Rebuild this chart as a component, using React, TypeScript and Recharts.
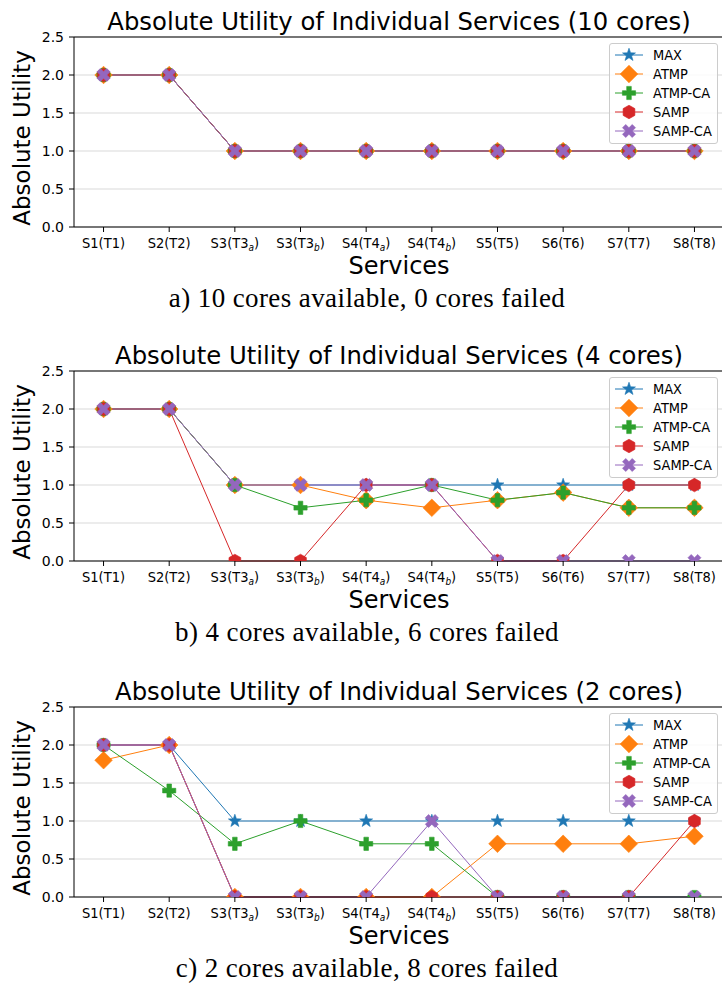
import React from 'react';
import { LineChart, Line, XAxis, YAxis, CartesianGrid, ReferenceLine, Legend } from 'recharts';

// ---------- data ----------
const serviceLabels = ['S1(T1)', 'S2(T2)', 'S3(T3_a)', 'S3(T3_b)', 'S4(T4_a)', 'S4(T4_b)', 'S5(T5)', 'S6(T6)', 'S7(T7)', 'S8(T8)'];
const yTicks = [0, 0.5, 1.0, 1.5, 2.0, 2.5];
const seriesNames = ['MAX', 'ATMP', 'ATMP-CA', 'SAMP', 'SAMP-CA'];

// panel a) 10 cores
const maxA = [2, 2, 1, 1, 1, 1, 1, 1, 1, 1];
const atmpA = [2, 2, 1, 1, 1, 1, 1, 1, 1, 1];
const atmpCaA = [2, 2, 1, 1, 1, 1, 1, 1, 1, 1];
const sampA = [2, 2, 1, 1, 1, 1, 1, 1, 1, 1];
const sampCaA = [2, 2, 1, 1, 1, 1, 1, 1, 1, 1];

// panel b) 4 cores
const maxB = [2, 2, 1, 1, 1, 1, 1, 1, 1, 1];
const atmpB = [2, 2, 1, 1, 0.8, 0.7, 0.8, 0.9, 0.7, 0.7];
const atmpCaB = [2, 2, 1, 0.7, 0.8, 1, 0.8, 0.9, 0.7, 0.7];
const sampB = [2, 2, 0, 0, 1, 1, 0, 0, 1, 1];
const sampCaB = [2, 2, 1, 1, 1, 1, 0, 0, 0, 0];

// panel c) 2 cores
const maxC = [2, 2, 1, 1, 1, 1, 1, 1, 1, 1];
const atmpC = [1.8, 2, 0, 0, 0, 0, 0.7, 0.7, 0.7, 0.8];
const atmpCaC = [2, 1.4, 0.7, 1, 0.7, 0.7, 0, 0, 0, 0];
const sampC = [2, 2, 0, 0, 0, 0, 0, 0, 0, 1];
const sampCaC = [2, 2, 0, 0, 0, 1, 0, 0, 0, 0];

const titles = [
  'Absolute Utility of Individual Services (10 cores)',
  'Absolute Utility of Individual Services (4 cores)',
  'Absolute Utility of Individual Services (2 cores)',
];
const captions = [
  'a) 10 cores available, 0 cores failed',
  'b) 4 cores available, 6 cores failed',
  'c) 2 cores available, 8 cores failed',
];

// ---------- style ----------
const COLORS = ['#1f77b4', '#ff7f0e', '#2ca02c', '#d62728', '#9467bd'];
const MARKERS = ['star', 'diamond', 'plus', 'hexagon', 'x'];
const FONT = 'DejaVu Sans, sans-serif';

const CHART_W = 724;
const CHART_H = 290;
const PLOT_LEFT = 74;
const PLOT_TOP = 37;
const PLOT_H = 190;
const PLOT_W = CHART_W - PLOT_LEFT;
const PANEL_OFFSETS = [0, 334, 670];

const buildRows = (cols: number[][]) =>
  serviceLabels.map((_, i) => {
    const row: any = { x: i };
    seriesNames.forEach((n, k) => (row[n] = cols[k][i]));
    return row;
  });

const panels = [
  buildRows([maxA, atmpA, atmpCaA, sampA, sampCaA]),
  buildRows([maxB, atmpB, atmpCaB, sampB, sampCaB]),
  buildRows([maxC, atmpC, atmpCaC, sampC, sampCaC]),
];

// ---------- markers ----------
const polyPath = (pts: number[][]) => 'M' + pts.map((p) => p[0].toFixed(2) + ',' + p[1].toFixed(2)).join('L') + 'Z';

const plusPts = (cx: number, cy: number, L: number, w: number) => [
  [cx - w, cy - L], [cx + w, cy - L], [cx + w, cy - w], [cx + L, cy - w], [cx + L, cy + w], [cx + w, cy + w],
  [cx + w, cy + L], [cx - w, cy + L], [cx - w, cy + w], [cx - L, cy + w], [cx - L, cy - w], [cx - w, cy - w],
];

function markerShape(kind: string, cx: number, cy: number, color: string) {
  const common = { fill: color, stroke: color, strokeWidth: 0.6 };
  if (kind === 'star') {
    const pts: number[][] = [];
    for (let k = 0; k < 10; k++) {
      const r = k % 2 === 0 ? 6.8 : 2.7;
      const a = (-90 + k * 36) * (Math.PI / 180);
      pts.push([cx + r * Math.cos(a), cy + r * Math.sin(a)]);
    }
    return <path d={polyPath(pts)} {...common} />;
  }
  if (kind === 'diamond') {
    const d = 8.8;
    return <path d={polyPath([[cx, cy - d], [cx + d, cy], [cx, cy + d], [cx - d, cy]])} {...common} />;
  }
  if (kind === 'plus') {
    return <path d={polyPath(plusPts(cx, cy, 6.6, 2.3))} {...common} />;
  }
  if (kind === 'hexagon') {
    const pts: number[][] = [];
    for (let k = 0; k < 6; k++) {
      const a = (-90 + k * 60) * (Math.PI / 180);
      pts.push([cx + 6.8 * Math.cos(a), cy + 6.8 * Math.sin(a)]);
    }
    return <path d={polyPath(pts)} {...common} />;
  }
  // filled X
  return <path d={polyPath(plusPts(cx, cy, 6.9, 2.3))} transform={`rotate(45 ${cx} ${cy})`} {...common} />;
}

const makeDot = (kind: string, color: string, panel: number, key: string) => (props: any) => {
  const { cx, cy, index } = props;
  const id = `clip-${panel}-${key.replace(/[^A-Za-z]/g, '')}-${index}`;
  if (cx == null || cy == null || isNaN(cx) || isNaN(cy)) return <g key={id} />;
  return (
    <g key={id}>
      <defs>
        <clipPath id={id}>
          <rect x={PLOT_LEFT} y={PLOT_TOP} width={PLOT_W} height={PLOT_H} />
        </clipPath>
      </defs>
      <g clipPath={`url(#${id})`}>{markerShape(kind, cx, cy, color)}</g>
    </g>
  );
};

// ---------- ticks ----------
const XTick = (props: any) => {
  const { x, y, payload } = props;
  const label = serviceLabels[payload.value] || '';
  const m = label.match(/^(.*)_(\w)\)$/);
  return (
    <text
      x={x}
      y={y + 14}
      textAnchor="middle"
      fontSize={14.5}
      fontFamily={FONT}
      fill="#000"
      transform={`translate(${x},0) scale(0.9,1) translate(${-x},0)`}
    >
      {m ? (
        <>
          {m[1]}
          <tspan dy={3} fontSize={10} fontStyle="italic">{m[2]}</tspan>
          <tspan dy={-3}>)</tspan>
        </>
      ) : (
        label
      )}
    </text>
  );
};

// ---------- legend ----------
const LegendBox = () => (
  <div
    style={{
      width: 107,
      height: 99,
      border: '1px solid #cccccc',
      borderRadius: 3,
      background: 'rgba(255,255,255,0.85)',
    }}
  >
    <svg width={107} height={99} style={{ display: 'block' }}>
      {seriesNames.map((n, k) => {
        const cy = 11 + k * 19;
        return (
          <g key={n}>
            <line x1={5} x2={33} y1={cy} y2={cy} stroke={COLORS[k]} strokeWidth={1} />
            {markerShape(MARKERS[k], 19, cy, COLORS[k])}
            <text
              x={43}
              y={cy + 5}
              fontSize={14}
              fontFamily={FONT}
              fill="#000"
              transform="translate(43,0) scale(0.93,1) translate(-43,0)"
            >
              {n}
            </text>
          </g>
        );
      })}
    </svg>
  </div>
);

// ---------- panel ----------
const Panel = ({ index }: { index: number }) => {
  const data = panels[index];
  const off = PANEL_OFFSETS[index];
  return (
    <>
      <div style={{ position: 'absolute', left: 0, top: off, width: CHART_W, height: CHART_H }}>
        <LineChart width={CHART_W} height={CHART_H} data={data} margin={{ top: PLOT_TOP, right: 0, bottom: 33, left: 0 }}>
          <CartesianGrid horizontal vertical={false} stroke="#d9d9d9" strokeWidth={1} />
          <XAxis
            dataKey="x"
            type="number"
            domain={[-0.45, 9.45]}
            allowDataOverflow
            ticks={[0, 1, 2, 3, 4, 5, 6, 7, 8, 9]}
            interval={0}
            height={30}
            tickSize={5}
            stroke="#000"
            tick={<XTick />}
          />
          <YAxis
            type="number"
            domain={[0, 2.5]}
            ticks={yTicks}
            width={PLOT_LEFT}
            tickSize={5}
            tickMargin={5}
            stroke="#000"
            tick={{ fill: '#000', fontSize: 14, fontFamily: FONT }}
            tickFormatter={(v: number) => v.toFixed(1)}
          />
          <ReferenceLine y={2.5} stroke="#000" strokeWidth={1} />
          {seriesNames.map((n, k) => (
            <Line
              key={n}
              dataKey={n}
              type="linear"
              stroke={COLORS[k]}
              strokeWidth={1}
              dot={makeDot(MARKERS[k], COLORS[k], index, n)}
              activeDot={false}
              isAnimationActive={false}
            />
          ))}
          <Legend
            layout="vertical"
            align="center"
            verticalAlign="middle"
            wrapperStyle={{ position: 'absolute', top: 43, left: 609, width: 109, height: 101 }}
            content={() => <LegendBox />}
          />
        </LineChart>
      </div>
      <div
        style={{
          position: 'absolute', left: 399, top: 22 + off, transform: 'translate(-50%,-50%)',
          fontFamily: FONT, fontSize: 24.3, lineHeight: 1, whiteSpace: 'nowrap', color: '#000',
        }}
      >
        {titles[index]}
      </div>
      <div
        style={{
          position: 'absolute', left: 22, top: 138 + off, transform: 'translate(-50%,-50%) rotate(-90deg)',
          fontFamily: FONT, fontSize: 23, lineHeight: 1, whiteSpace: 'nowrap', color: '#000',
        }}
      >
        Absolute Utility
      </div>
      <div
        style={{
          position: 'absolute', left: 399, top: 266 + off, transform: 'translate(-50%,-50%)',
          fontFamily: FONT, fontSize: 24, lineHeight: 1, whiteSpace: 'nowrap', color: '#000',
        }}
      >
        Services
      </div>
      <div
        style={{
          position: 'absolute', left: 367, top: 298 + off, transform: 'translate(-50%,-50%)',
          fontFamily: 'Liberation Serif, serif', fontSize: 27, letterSpacing: 0.4, lineHeight: 1, whiteSpace: 'nowrap', color: '#000',
        }}
      >
        {captions[index]}
      </div>
    </>
  );
};

export default function App() {
  return (
    <div style={{ position: 'absolute', left: 0, top: 0, width: 722, height: 985, background: '#fff', overflow: 'hidden' }}>
      <Panel index={0} />
      <Panel index={1} />
      <Panel index={2} />
    </div>
  );
}
